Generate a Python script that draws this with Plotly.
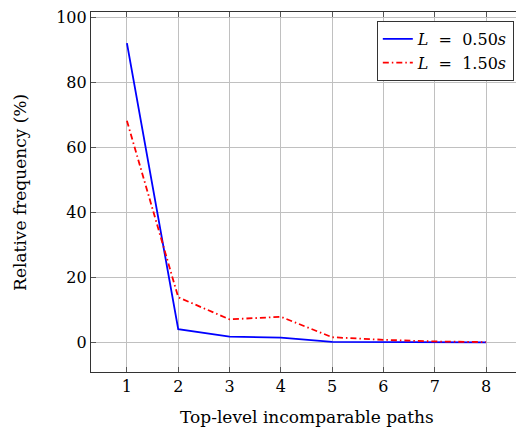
import plotly.graph_objects as go

paths = [1, 2, 3, 4, 5, 6, 7, 8]
freq_l050 = [92.1, 4.1, 1.8, 1.5, 0.2, 0.1, 0.05, 0.0]
freq_l150 = [68.2, 13.9, 7.1, 7.9, 1.6, 0.8, 0.3, 0.1]
x_ticks = [1, 2, 3, 4, 5, 6, 7, 8]
y_ticks = [0, 20, 40, 60, 80, 100]
x_title = "Top-level incomparable paths"
y_title = "Relative frequency (%)"

FONT = "DejaVu Serif"

fig = go.Figure()
fig.add_trace(go.Scatter(x=paths, y=freq_l050, mode="lines",
                         line=dict(color="#0000ff", width=1.8),
                         name="<i>L</i> &nbsp;= &nbsp;0.50<i>s</i>"))
fig.add_trace(go.Scatter(x=paths, y=freq_l150, mode="lines",
                         line=dict(color="#ff0000", width=1.8, dash="6px,3px,1.5px,3px"),
                         name="<i>L</i> &nbsp;= &nbsp;1.50<i>s</i>"))

axis_common = dict(showgrid=True, gridcolor="#c0c0c0", gridwidth=1,
                   showline=True, linecolor="#333333", linewidth=1.2, mirror="ticks",
                   ticks="inside", ticklen=5, tickcolor="#555555", automargin=False,
                   ticklabeloverflow="allow",
                   zeroline=False, tickfont=dict(family=FONT, size=16, color="black"))

fig.update_xaxes(range=[0.3, 8.7], tickvals=x_ticks, **axis_common)
fig.update_yaxes(range=[-9.1, 101.7], tickvals=y_ticks, **axis_common)

fig.add_annotation(text=x_title, xref="paper", yref="paper", x=0.5, y=-0.125,
                   xanchor="center", yanchor="middle", showarrow=False,
                   font=dict(family=FONT, size=17, color="black"))
fig.add_annotation(text=y_title, xref="paper", yref="paper", x=-0.165, y=0.5,
                   xanchor="center", yanchor="middle", textangle=-90, showarrow=False,
                   font=dict(family=FONT, size=17, color="black"))

fig.update_layout(width=516, height=421,
                  margin=dict(l=83, r=2, t=4, b=57, autoexpand=False),
                  plot_bgcolor="white", paper_bgcolor="white",
                  font=dict(family=FONT, color="black"),
                  legend=dict(x=0.981, y=0.975, xanchor="right", yanchor="top",
                              bgcolor="white", bordercolor="#333333", borderwidth=1,
                              font=dict(family=FONT, size=16, color="black"),
                              tracegroupgap=0, itemwidth=30))

fig.write_html("out.html")
